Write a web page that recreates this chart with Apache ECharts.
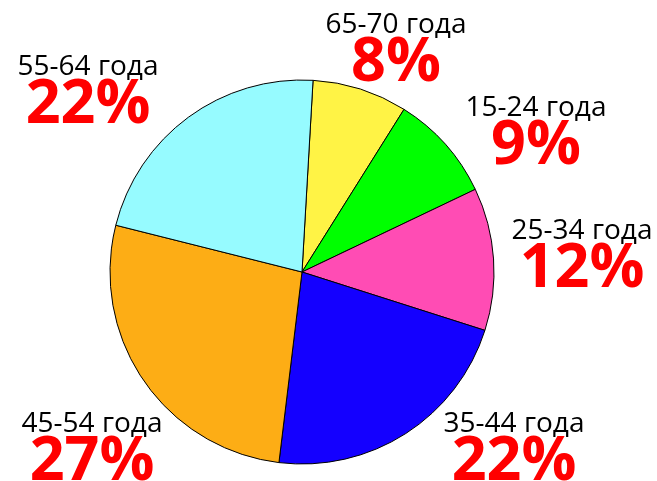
<!DOCTYPE html>
<html>
<head>
<meta charset="utf-8">
<script src="https://cdn.jsdelivr.net/npm/echarts@6/dist/echarts.min.js"></script>
<style>
html,body{margin:0;padding:0;background:#fff;}
#chart{width:657px;height:481px;}
</style>
</head>
<body>
<div id="chart"></div>
<script>
// Data (clockwise from top)
var categories = ['65-70 года', '15-24 года', '25-34 года', '35-44 года', '45-54 года', '55-64 года'];
var shares = [8, 9, 12, 22, 27, 22];
var sliceColors = ['#FFF345', '#00FF00', '#FF4CB4', '#1400FF', '#FDAD15', '#96FBFF'];

// Label anchor positions (layout only): centre x, top y
var labelPos = [[396, 10], [536, 93], [582, 216], [514, 409], [92, 409], [88, 52]];

var chart = echarts.init(document.getElementById('chart'));
chart.setOption({
  animation: false,
  series: [{
    type: 'pie',
    center: [302, 272],
    radius: 192,
    startAngle: 86.7,
    clockwise: true,
    avoidLabelOverlap: false,
    data: categories.map(function (c, i) {
      return { name: c, value: shares[i], itemStyle: { color: sliceColors[i] } };
    }),
    itemStyle: { borderColor: '#000', borderWidth: 1 },
    label: {
      show: true,
      position: 'outside',
      formatter: function (p) { return '{n|' + p.name + '}\n{p|' + p.value + '%}'; },
      rich: {
        n: { fontFamily: 'Open Sans', fontSize: 28, color: '#000', lineHeight: 30, align: 'center' },
        p: { fontFamily: 'Open Sans', fontSize: 61, fontWeight: 'bold', color: '#FF0000', lineHeight: 47, align: 'center' }
      }
    },
    labelLine: { show: false },
    labelLayout: function (params) {
      var pos = labelPos[params.dataIndex];
      return { x: pos[0], y: pos[1], align: 'center', verticalAlign: 'top' };
    },
    emphasis: { disabled: true }
  }]
});
</script>
</body>
</html>
